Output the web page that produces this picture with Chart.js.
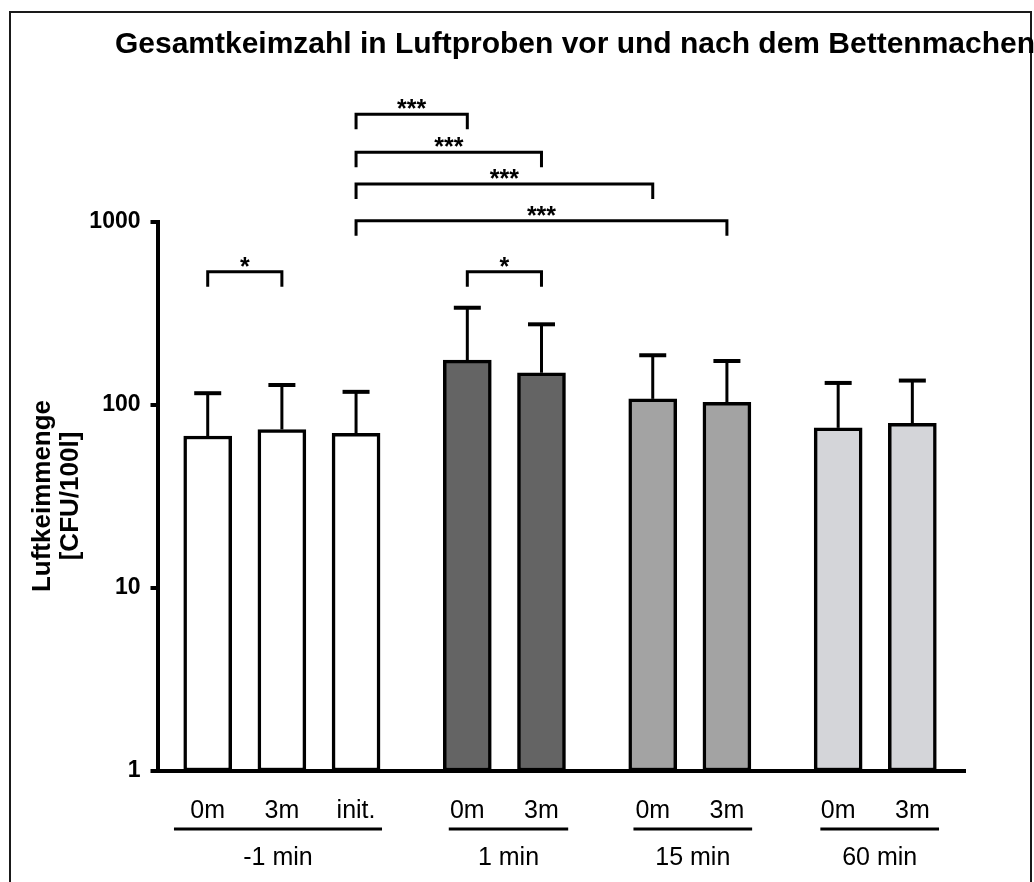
<!DOCTYPE html>
<html><head><meta charset="utf-8">
<script src="https://cdn.jsdelivr.net/npm/chart.js@4/dist/chart.umd.min.js"></script>
<style>html,body{margin:0;padding:0;background:#fff}#wrap{width:1034px;height:882px;position:relative}</style>
</head><body><div id="wrap"><canvas id="c" width="1034" height="882"></canvas></div>
<script>
// ---------- data ----------
const chartTitle = 'Gesamtkeimzahl in Luftproben vor und nach dem Bettenmachen';
const yTitle = ['Luftkeimmenge', '[CFU/100l]'];
const groups = ['-1 min', '1 min', '15 min', '60 min'];
const groupSizes = [3, 2, 2, 2];
const categories = ['0m', '3m', 'init.', '0m', '3m', '0m', '3m', '0m', '3m'];
const means = [67.7, 73.5, 70, 176, 150, 108, 103.5, 75, 79.4];
const upperSD = [116, 128.6, 118, 340, 276, 187, 174, 132, 136];
const yTicks = [1, 10, 100, 1000];
// significance brackets: [from bar, to bar, height (CFU/100l), label]
const brackets = [
  [0, 1, 535, '*'],
  [3, 4, 535, '*'],
  [2, 3, 3880, '***'],
  [2, 4, 2404, '***'],
  [2, 5, 1613, '***'],
  [2, 6, 1016, '***']
];

// ---------- styling ----------
const groupColors = ['#ffffff', '#646464', '#a3a3a3', '#d4d5d9'];
const GAP = 0.5;
const FONT = '"Liberation Sans", Arial, Helvetica, sans-serif';
const groupLineExtent = [[-0.455, 2.35], [3.25, 4.86], [5.74, 7.34], [8.26, 9.86]];

const xs = [], barGroup = [];
let pos = 0;
groupSizes.forEach((n, g) => {
  for (let i = 0; i < n; i++) { xs.push(pos); barGroup.push(g); pos += 1; }
  pos += GAP;
});

const extras = {
  id: 'extras',
  beforeDraw(chart) {
    const ctx = chart.ctx;
    ctx.save();
    ctx.fillStyle = '#fff';
    ctx.fillRect(0, 0, chart.width, chart.height);
    ctx.strokeStyle = '#1a1a1a';
    ctx.lineWidth = 2;
    ctx.strokeRect(10, 12, 1021, 900);
    ctx.restore();
  },
  afterDatasetsDraw(chart) {
    const ctx = chart.ctx;
    const ys = chart.scales.y;
    const meta = chart.getDatasetMeta(0);
    ctx.save();
    ctx.strokeStyle = '#000';
    // error bars (upper SD)
    meta.data.forEach((el, i) => {
      const yt = ys.getPixelForValue(upperSD[i]);
      ctx.lineWidth = 3;
      ctx.beginPath();
      ctx.moveTo(el.x, el.y);
      ctx.lineTo(el.x, yt);
      ctx.stroke();
      ctx.lineWidth = 4;
      ctx.beginPath();
      ctx.moveTo(el.x - 13.5, yt);
      ctx.lineTo(el.x + 13.5, yt);
      ctx.stroke();
    });
    // significance brackets
    ctx.lineWidth = 3;
    ctx.lineJoin = 'miter';
    ctx.fillStyle = '#000';
    ctx.font = 'bold 25px ' + FONT;
    ctx.textAlign = 'center';
    ctx.textBaseline = 'alphabetic';
    brackets.forEach(([a, b, v, lab]) => {
      const x1 = meta.data[a].x, x2 = meta.data[b].x;
      const y = ys.getPixelForValue(v);
      ctx.beginPath();
      ctx.moveTo(x1, y + 15);
      ctx.lineTo(x1, y);
      ctx.lineTo(x2, y);
      ctx.lineTo(x2, y + 15);
      ctx.stroke();
      ctx.fillText(lab, (x1 + x2) / 2, y + 3);
    });
    ctx.restore();
  },
  afterDraw(chart) {
    const ctx = chart.ctx;
    const xsS = chart.scales.x;
    ctx.save();
    ctx.fillStyle = '#000';
    ctx.strokeStyle = '#000';
    // group lines and labels
    ctx.lineWidth = 3;
    ctx.font = '25px ' + FONT;
    ctx.textAlign = 'center';
    ctx.textBaseline = 'middle';
    groups.forEach((g, k) => {
      const [a, b] = groupLineExtent[k];
      const x1 = xsS.getPixelForValue(a), x2 = xsS.getPixelForValue(b);
      ctx.beginPath();
      ctx.moveTo(x1, 829);
      ctx.lineTo(x2, 829);
      ctx.stroke();
      ctx.fillText(g, (x1 + x2) / 2, 858);
    });
    // y axis title (two rotated lines)
    ctx.save();
    ctx.font = 'bold 26px ' + FONT;
    ctx.textAlign = 'center';
    ctx.textBaseline = 'alphabetic';
    ctx.translate(0, 496);
    ctx.rotate(-Math.PI / 2);
    ctx.fillText(yTitle[0], 0, 50);
    ctx.fillText(yTitle[1], 0, 78);
    ctx.restore();
    // chart title
    ctx.font = 'bold 30px ' + FONT;
    ctx.textAlign = 'center';
    ctx.textBaseline = 'alphabetic';
    ctx.fillText(chartTitle, 575, 53);
    ctx.restore();
  }
};

new Chart(document.getElementById('c'), {
  type: 'bar',
  data: {
    datasets: [{
      data: xs.map((x, i) => ({ x: x, y: means[i] })),
      backgroundColor: barGroup.map(g => groupColors[g]),
      borderColor: '#000',
      borderWidth: 3.5,
      borderSkipped: false,
      barThickness: 48
    }]
  },
  options: {
    responsive: false,
    animation: false,
    devicePixelRatio: 1,
    layout: { padding: { top: 222, right: 69, left: 0, bottom: 0 } },
    plugins: { legend: { display: false }, tooltip: { enabled: false }, title: { display: false } },
    scales: {
      x: {
        type: 'linear',
        offset: false,
        min: -0.677,
        max: 10.21,
        grid: { display: false, offset: false },
        border: { display: true, width: 4, color: '#000' },
        afterBuildTicks: s => { s.ticks = xs.map(v => ({ value: v })); },
        afterFit: s => { s.height = 111; },
        ticks: {
          autoSkip: false, maxRotation: 0, padding: 17, color: '#000',
          font: { family: FONT, size: 25 },
          callback: (v, i) => categories[i]
        }
      },
      y: {
        type: 'logarithmic',
        min: 1,
        max: 1000,
        grid: { drawOnChartArea: false, drawTicks: true, tickLength: 7, lineWidth: 4, color: '#000' },
        border: { display: true, width: 4, color: '#000' },
        afterBuildTicks: s => { s.ticks = yTicks.map(v => ({ value: v })); },
        afterFit: s => { s.width = 157.5; },
        ticks: {
          padding: 10, color: '#000',
          font: { family: FONT, size: 23, weight: 'bold' },
          callback: v => String(v)
        }
      }
    }
  },
  plugins: [extras]
});
</script>
</body></html>
